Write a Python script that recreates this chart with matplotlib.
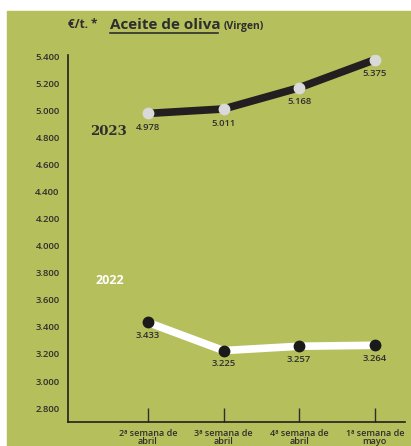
import matplotlib
matplotlib.use("Agg")
from matplotlib import pyplot as plt
from matplotlib.patches import Rectangle

# datos
semanas = ["2ª semana de\nabril", "3ª semana de\nabril",
           "4ª semana de\nabril", "1ª semana de\nmayo"]
precios_2023 = [4978, 5011, 5168, 5375]
precios_2022 = [3433, 3225, 3257, 3264]
etiquetas_2023 = ["4.978", "5.011", "5.168", "5.375"]
etiquetas_2022 = ["3.433", "3.225", "3.257", "3.264"]
yticks = list(range(2800, 5401, 200))

verde = "#b5bf5b"
texto = "#2e2e2e"
plt.rcParams['font.family'] = ['Open Sans', 'DejaVu Sans']

fig = plt.figure(figsize=(4.11, 4.46), dpi=100, facecolor="white")
fig.patches.append(Rectangle((7 / 411, 0), 1, 1 - 11 / 446,
                             transform=fig.transFigure, color=verde, zorder=-5))

ax = fig.add_axes([68 / 411, 24 / 446, 337 / 411, 367 / 446])
ax.set_facecolor("none")
x = list(range(len(semanas)))

ax.plot(x, precios_2023, color="#231f20", lw=5.5, solid_capstyle="round", zorder=2)
ax.plot(x, precios_2023, "o", ms=7.5, color="#d9d9d9", zorder=3)
ax.plot(x, precios_2022, color="white", lw=5.5, solid_capstyle="round", zorder=2)
ax.plot(x, precios_2022, "o", ms=7.5, color="#1a1a1a", zorder=3)

for xi, v, t in zip(x, precios_2023, etiquetas_2023):
    ax.annotate(t, (xi, v), xytext=(0, -7), textcoords="offset points",
                ha="center", va="top", fontsize=6.8, color=texto, fontweight="semibold")
for xi, v, t in zip(x, precios_2022, etiquetas_2022):
    ax.annotate(t, (xi, v), xytext=(0, -6), textcoords="offset points",
                ha="center", va="top", fontsize=6.8, color=texto, fontweight="semibold")

ax.text(-0.52, 4848, "2023", fontsize=9.5, fontweight="bold", color=texto,
        ha="center", va="center", family="DejaVu Serif")
ax.text(-0.50, 3740, "2022", fontsize=9, fontweight="bold", color="white",
        ha="center", va="center")

ax.set_xlim(-1.057, 3.40)
ax.set_ylim(2697, 5410)
ax.set_xticks(x)
ax.set_xticklabels(semanas, fontsize=6.5, fontweight="semibold", color=texto,
                   linespacing=0.85)
ax.set_yticks(yticks)
ax.set_yticklabels(["{:,}".format(v).replace(",", ".") for v in yticks],
                   fontsize=6.8, fontweight="semibold", color=texto)
ax.tick_params(axis="x", direction="in", length=10, width=1, colors=texto, pad=5)
ax.tick_params(axis="y", length=0, pad=6)
for s in ["top", "right"]:
    ax.spines[s].set_visible(False)
for s in ["left", "bottom"]:
    ax.spines[s].set_color("#231f20")
    ax.spines[s].set_linewidth(1.2)

fig.text(68 / 411, 1 - 25 / 446, "€/t. *", fontsize=8.5, fontweight="bold",
         color=texto, va="center")
fig.text(110 / 411, 1 - 25 / 446, "Aceite de oliva", fontsize=11, fontweight="bold",
         color=texto, va="center")
fig.add_artist(plt.Line2D([110 / 411, 218 / 411], [1 - 33 / 446, 1 - 33 / 446],
                          color=texto, lw=1.2, transform=fig.transFigure))
fig.text(224 / 411, 1 - 26 / 446, "(Virgen)", fontsize=7.5, fontweight="bold",
         color=texto, va="center")

fig.savefig("out.png", dpi=100, facecolor=fig.get_facecolor())
